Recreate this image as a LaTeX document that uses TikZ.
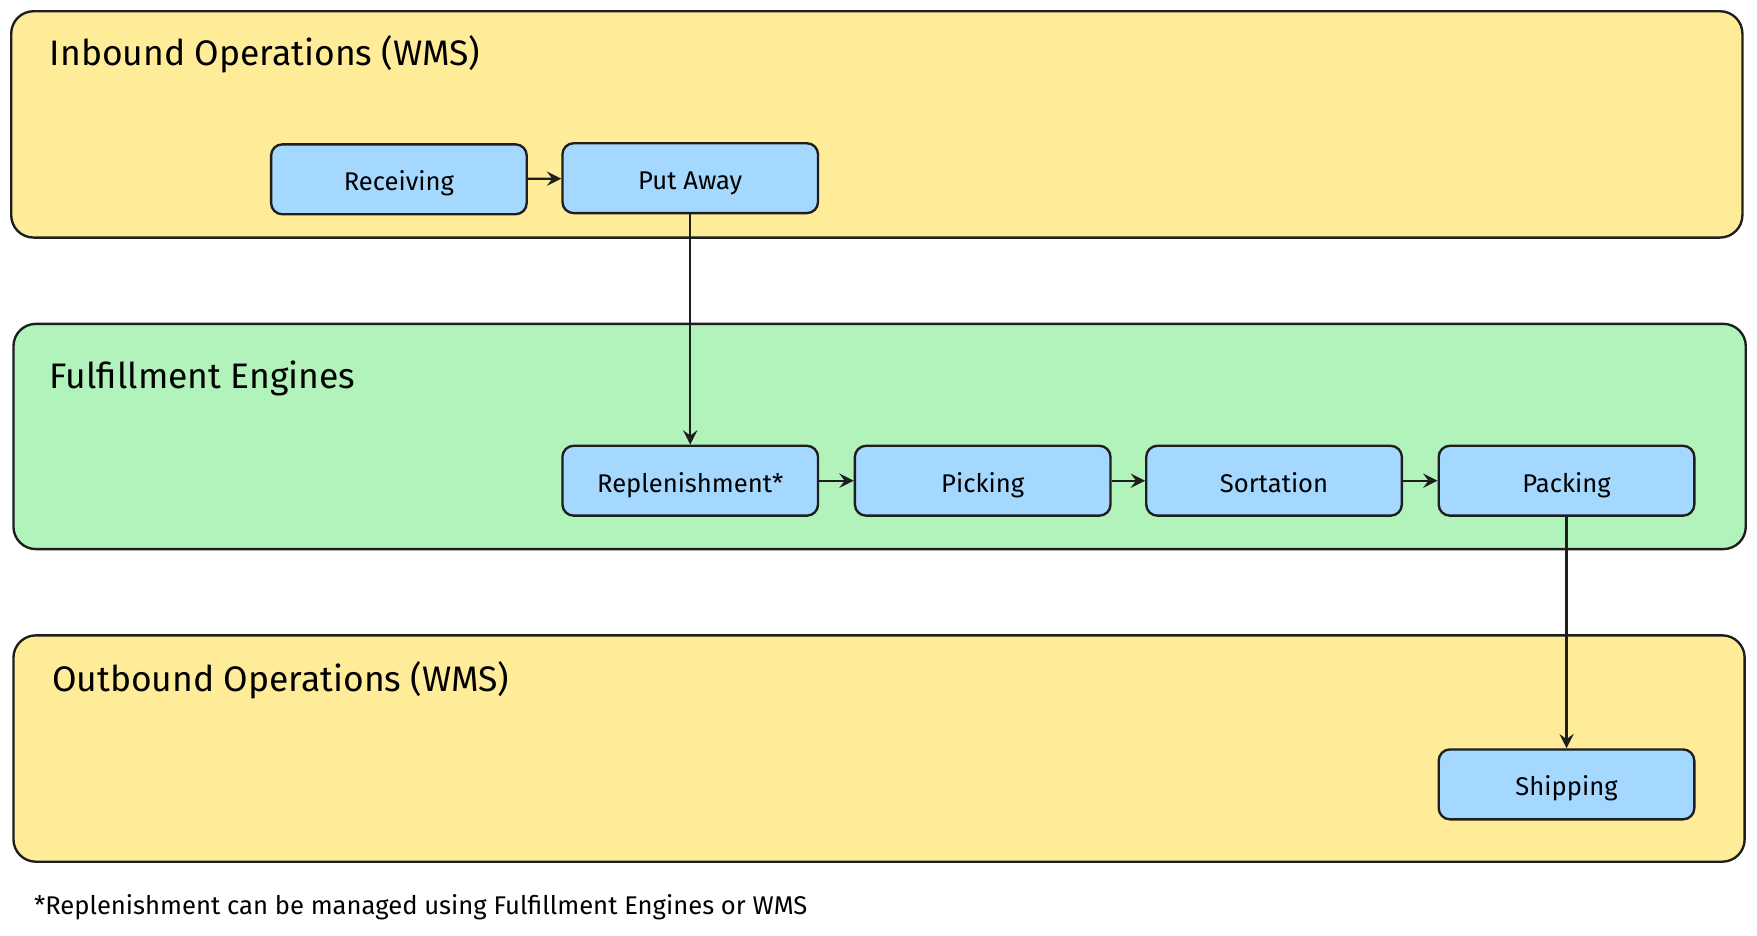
\documentclass[tikz,border=0pt]{standalone}
\usepackage{fontspec}
\setmainfont{Fira Sans}
\usepackage{tikz}
\usetikzlibrary{positioning}
\definecolor{laneyellow}{HTML}{FFEC99}
\definecolor{lanegreen}{HTML}{B2F2BB}
\definecolor{stepblue}{HTML}{A5D8FF}
\definecolor{ink}{HTML}{1E1E1E}

\begin{document}
\begin{tikzpicture}[x=0.01cm,y=-0.01cm,
  lane/.style={draw=ink,line width=0.6pt,rounded corners=0.2cm},
  task/.style={draw=ink,fill=stepblue,line width=0.6pt,rounded corners=0.1cm,
    minimum width=2.28cm,minimum height=0.62cm,text height=1.6ex,text depth=0.5ex,
    font=\fontsize{6.5}{8}\selectfont},
  title/.style={anchor=west,font=\fontsize{9}{11}\selectfont},
  flow/.style={->,>=stealth,draw=ink,line width=0.6pt}]
\useasboundingbox (0,0) rectangle (1568,835);

\draw[lane,fill=laneyellow] (10,10) rectangle (1555,212);
\node[title] (tin) at (32,48) {Inbound Operations (WMS)};
\node[task] (rec) at (356,160) {Receiving};
\node[task] (put) at (616,159) {Put Away};

\draw[lane,fill=lanegreen] (12,289) rectangle (1558,490);
\node[title] (tful) at (32,338) {Fulfillment Engines};
\node[task] (rep) at (616,429) {Replenishment*};
\node[task] (pic) at (877,429) {Picking};
\node[task] (sor) at (1137,429) {Sortation};
\node[task] (pac) at (1398,429) {Packing};

\draw[lane,fill=laneyellow] (12,567) rectangle (1557,769);
\node[title] (tout) at (34,607) {Outbound Operations (WMS)};
\node[task] (shi) at (1398,700) {Shipping};

\node[anchor=west,font=\fontsize{6.5}{8}\selectfont] (note) at (18,810)
  {*Replenishment can be managed using Fulfillment Engines or WMS};

\draw[flow] (rec) -- (put);
\draw[flow] (put) -- (rep);
\draw[flow] (rep) -- (pic);
\draw[flow] (pic) -- (sor);
\draw[flow] (sor) -- (pac);
\draw[flow] (pac) -- (shi);
\end{tikzpicture}
\end{document}
